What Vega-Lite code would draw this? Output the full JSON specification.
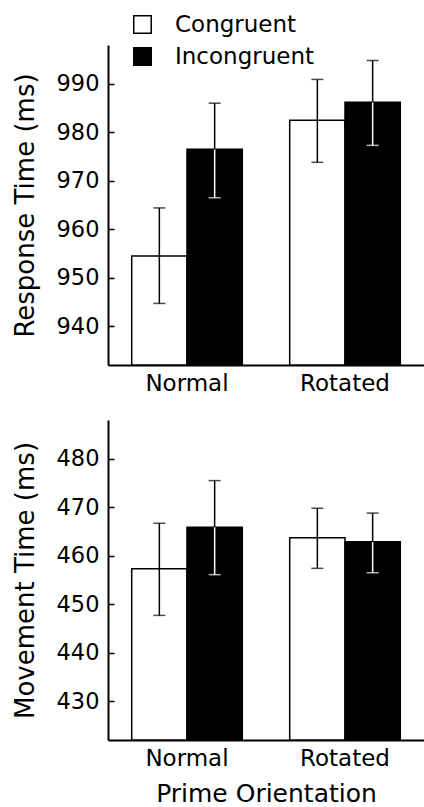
{
  "$schema": "https://vega.github.io/schema/vega-lite/v6.json",
  "padding": {"left": 12, "top": 13, "right": 0, "bottom": 0},
  "background": "white",
  "spacing": 25,
  "config": {
    "font": "DejaVu Sans",
    "view": {"stroke": null},
    "axis": {
      "labelFont": "DejaVu Sans", "titleFont": "DejaVu Sans",
      "labelColor": "black", "titleColor": "black",
      "domainColor": "black", "tickColor": "black",
      "grid": false, "labelFontSize": 22.5, "titleFontSize": 26,
      "titleFontWeight": "normal", "domainWidth": 2, "tickWidth": 1.5
    }
  },
  "datasets": {
    "rt": [
      {"orient": "Normal", "cond": "Congruent", "mean": 954.5, "lo": 944.7, "hi": 964.4},
      {"orient": "Normal", "cond": "Incongruent", "mean": 976.5, "lo": 966.5, "hi": 986.0},
      {"orient": "Rotated", "cond": "Congruent", "mean": 982.5, "lo": 973.8, "hi": 990.9},
      {"orient": "Rotated", "cond": "Incongruent", "mean": 986.2, "lo": 977.3, "hi": 994.8}
    ],
    "mt": [
      {"orient": "Normal", "cond": "Congruent", "mean": 457.3, "lo": 447.7, "hi": 466.7},
      {"orient": "Normal", "cond": "Incongruent", "mean": 465.9, "lo": 456.1, "hi": 475.5},
      {"orient": "Rotated", "cond": "Congruent", "mean": 463.7, "lo": 457.4, "hi": 469.8},
      {"orient": "Rotated", "cond": "Incongruent", "mean": 462.9, "lo": 456.5, "hi": 468.8}
    ]
  },
  "resolve": {"scale": {"fill": "independent", "color": "independent"}},
  "vconcat": [
    {
      "width": 316, "height": 320,
      "data": {"name": "rt"},
      "encoding": {
        "x": {"field": "orient", "type": "nominal", "sort": ["Normal", "Rotated"],
              "scale": {"paddingInner": 0.3, "paddingOuter": 0.15},
              "axis": {"title": null, "ticks": false, "labelAngle": 0, "labelPadding": 7, "labelFontSize": 23}},
        "xOffset": {"field": "cond", "type": "nominal", "sort": ["Congruent", "Incongruent"], "scale": {"paddingInner": 0}}
      },
      "layer": [
        {
          "mark": {"type": "bar", "stroke": "black", "strokeWidth": 1.5, "clip": true},
          "encoding": {
            "y": {"field": "mean", "type": "quantitative",
                  "scale": {"domain": [932, 998], "nice": false, "zero": false},
                  "axis": {"title": "Response Time (ms)", "values": [940, 950, 960, 970, 980, 990], "tickSize": -6, "labelPadding": 15, "titlePadding": 18}},
            "y2": {"datum": 932},
            "fill": {"field": "cond", "type": "nominal", "sort": ["Congruent", "Incongruent"],
                     "scale": {"range": ["white", "black"]},
                     "legend": {"orient": "none", "legendX": 23, "legendY": -32, "title": null,
                                "symbolType": "square", "symbolSize": 306, "symbolStrokeColor": "black",
                                "symbolStrokeWidth": 1.5, "labelFontSize": 23, "labelFont": "DejaVu Sans",
                                "labelColor": "black", "rowPadding": 7, "labelOffset": 21, "padding": 0}}
          }
        },
        {
          "mark": {"type": "rule", "strokeWidth": 1.5},
          "encoding": {
            "y": {"field": "lo", "type": "quantitative", "scale": {"domain": [932, 998], "nice": false, "zero": false}},
            "y2": {"field": "mean"},
            "color": {"field": "cond", "type": "nominal", "sort": ["Congruent", "Incongruent"], "scale": {"range": ["black", "white"]}, "legend": null}
          }
        },
        {
          "mark": {"type": "rule", "strokeWidth": 1.5, "color": "black"},
          "encoding": {
            "y": {"field": "mean", "type": "quantitative", "scale": {"domain": [932, 998], "nice": false, "zero": false}},
            "y2": {"field": "hi"}
          }
        },
        {
          "mark": {"type": "tick", "size": 12, "thickness": 1.5, "color": "black"},
          "encoding": {
            "y": {"field": "hi", "type": "quantitative", "scale": {"domain": [932, 998], "nice": false, "zero": false}}
          }
        },
        {
          "mark": {"type": "tick", "size": 12, "thickness": 1.5},
          "encoding": {
            "y": {"field": "lo", "type": "quantitative", "scale": {"domain": [932, 998], "nice": false, "zero": false}},
            "color": {"field": "cond", "type": "nominal", "sort": ["Congruent", "Incongruent"], "scale": {"range": ["black", "white"]}, "legend": null}
          }
        }
      ]
    },
    {
      "width": 316, "height": 320,
      "data": {"name": "mt"},
      "encoding": {
        "x": {"field": "orient", "type": "nominal", "sort": ["Normal", "Rotated"],
              "scale": {"paddingInner": 0.3, "paddingOuter": 0.15},
              "axis": {"title": "Prime Orientation", "ticks": false, "labelAngle": 0, "labelPadding": 7, "labelFontSize": 23, "titlePadding": 11, "titleFontSize": 25}},
        "xOffset": {"field": "cond", "type": "nominal", "sort": ["Congruent", "Incongruent"], "scale": {"paddingInner": 0}}
      },
      "layer": [
        {
          "mark": {"type": "bar", "stroke": "black", "strokeWidth": 1.5, "clip": true},
          "encoding": {
            "y": {"field": "mean", "type": "quantitative",
                  "scale": {"domain": [422, 488], "nice": false, "zero": false},
                  "axis": {"title": "Movement Time (ms)", "values": [430, 440, 450, 460, 470, 480], "tickSize": -6, "labelPadding": 15, "titlePadding": 18}},
            "y2": {"datum": 422},
            "fill": {"field": "cond", "type": "nominal", "sort": ["Congruent", "Incongruent"],
                     "scale": {"range": ["white", "black"]}, "legend": null}
          }
        },
        {
          "mark": {"type": "rule", "strokeWidth": 1.5},
          "encoding": {
            "y": {"field": "lo", "type": "quantitative", "scale": {"domain": [422, 488], "nice": false, "zero": false}},
            "y2": {"field": "mean"},
            "color": {"field": "cond", "type": "nominal", "sort": ["Congruent", "Incongruent"], "scale": {"range": ["black", "white"]}, "legend": null}
          }
        },
        {
          "mark": {"type": "rule", "strokeWidth": 1.5, "color": "black"},
          "encoding": {
            "y": {"field": "mean", "type": "quantitative", "scale": {"domain": [422, 488], "nice": false, "zero": false}},
            "y2": {"field": "hi"}
          }
        },
        {
          "mark": {"type": "tick", "size": 12, "thickness": 1.5, "color": "black"},
          "encoding": {
            "y": {"field": "hi", "type": "quantitative", "scale": {"domain": [422, 488], "nice": false, "zero": false}}
          }
        },
        {
          "mark": {"type": "tick", "size": 12, "thickness": 1.5},
          "encoding": {
            "y": {"field": "lo", "type": "quantitative", "scale": {"domain": [422, 488], "nice": false, "zero": false}},
            "color": {"field": "cond", "type": "nominal", "sort": ["Congruent", "Incongruent"], "scale": {"range": ["black", "white"]}, "legend": null}
          }
        }
      ]
    }
  ]
}
